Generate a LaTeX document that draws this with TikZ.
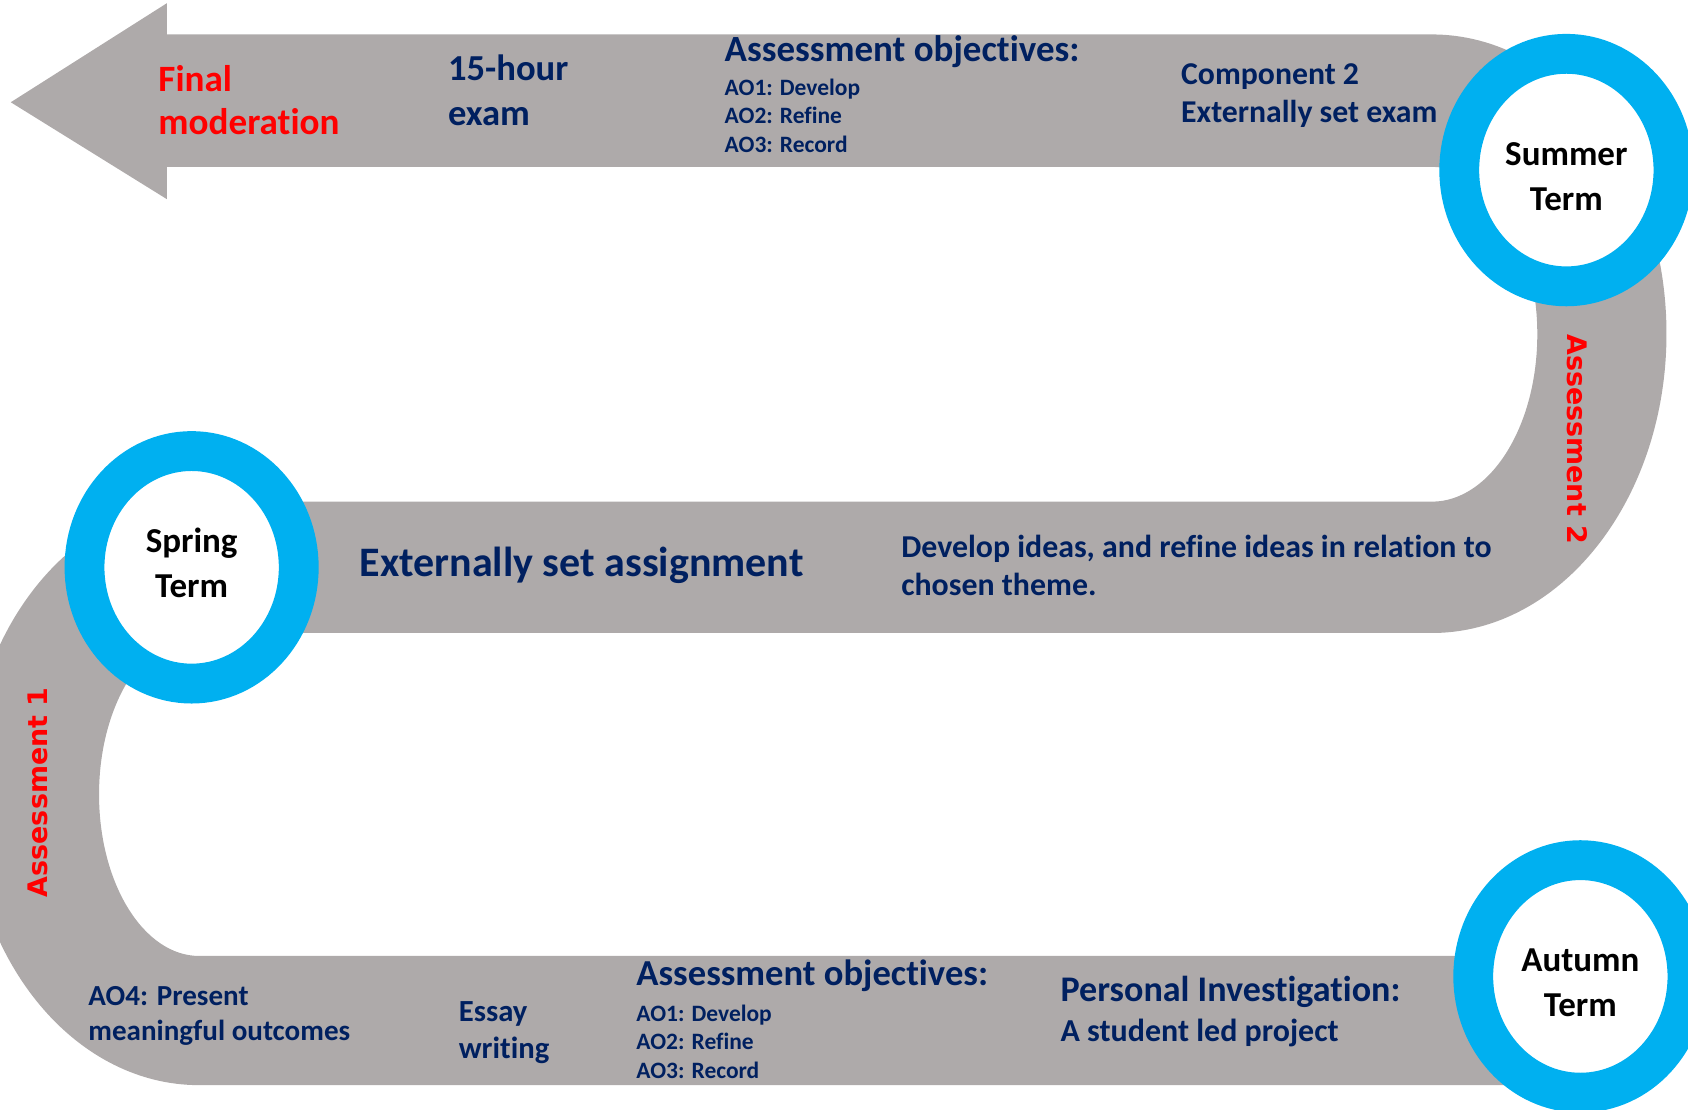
\documentclass[tikz,border=0pt]{standalone}
\usepackage{fontspec}
\setmainfont{Carlito}[Ligatures=CommonOff]
\newfontfamily\vfont{DejaVu Sans}
\usetikzlibrary{shapes.geometric}
\definecolor{bargray}{HTML}{AEAAAA}
\definecolor{ringblue}{HTML}{00B0F0}
\definecolor{navy}{HTML}{002060}
\definecolor{redtxt}{HTML}{FF0000}
\newcommand{\fsz}[2]{\fontsize{#1}{#2}\selectfont}
\begin{document}
\begin{tikzpicture}[x=1pt,y=1pt,
  ring/.style={ellipse, draw=ringblue, line width=37pt, fill=white, minimum width=199pt, minimum height=216pt, inner sep=0pt},
  termtxt/.style={inner sep=0pt, align=center, text=black, font=\bfseries\fsz{32.5}{42}},
  lbl/.style={anchor=west, inner sep=0pt, align=left, text=navy},
  vlbl/.style={inner sep=0pt, text=redtxt, font=\vfont\bfseries\fsz{25}{30}}
]
\useasboundingbox (0,0) rectangle (1568,1031);
\begin{scope}
\clip (0,0) rectangle (1568,1031);
\fill[bargray] (10,936) -- (155,1028) -- (155,999) -- (1330,999)
  arc[start angle=90,end angle=-90,x radius=218,y radius=278]
  -- (185,443) arc[start angle=90,end angle=270,x radius=93,y radius=150]
  -- (1468,143) -- (1468,23) -- (185,23)
  arc[start angle=270,end angle=90,x radius=215,y radius=271]
  -- (1330,565) arc[start angle=-90,end angle=90,x radius=98,y radius=155.5]
  -- (155,876) -- (155,846) -- cycle;
\node[ring] (summer) at (1455,873) {};
\node[ring] (spring) at (178,504) {};
\node[ring] (autumn) at (1468,124) {};
\end{scope}
\node[termtxt] (summerlbl) at (1455,867) {Summer\\Term};
\node[termtxt] (springlbl) at (178,508) {Spring\\Term};
\node[termtxt] (autumnlbl) at (1468,118) {Autumn\\Term};
% top row
\node[lbl, text=redtxt, font=\bfseries\fsz{34.5}{40}] (final) at (147,938) {Final\\moderation};
\node[lbl, font=\bfseries\fsz{34}{42}] (exam) at (416,947) {15-hour\\exam};
\node[lbl, font=\bfseries\fsz{34.3}{36}] (aotop) at (673,983) {Assessment objectives:};
\node[lbl, font=\bfseries\fsz{21.8}{26.5}] (aotoplist) at (673,923.5) {AO1: Develop\\AO2: Refine\\AO3: Record};
\node[lbl, font=\bfseries\fsz{29.5}{35}] (comp) at (1097,942) {Component 2\\Externally set exam};
% right turn
\node[vlbl, rotate=-90] (a2) at (1465,623) {Assessment 2};
% middle row
\node[lbl, font=\bfseries\fsz{39}{44}] (esa) at (334,506) {Externally set assignment};
\node[lbl, font=\bfseries\fsz{29.6}{35}] (dev) at (837,506) {Develop ideas, and refine ideas in relation to\\chosen theme.};
% left turn
\node[vlbl, rotate=90] (a1) at (35,295) {Assessment 1};
% bottom row
\node[lbl, font=\bfseries\fsz{27}{33}] (ao4) at (82,87.5) {AO4: Present\\meaningful outcomes};
\node[lbl, font=\bfseries\fsz{28.5}{34}] (essay) at (426,72) {Essay\\writing};
\node[lbl, font=\bfseries\fsz{34}{36}] (aobot) at (591,125) {Assessment objectives:};
\node[lbl, font=\bfseries\fsz{21.8}{26.5}] (aobotlist) at (591,63.5) {AO1: Develop\\AO2: Refine\\AO3: Record};
\node[lbl, font=\bfseries\fsz{33.5}{36}] (pi) at (985,110) {Personal Investigation:};
\node[lbl, font=\bfseries\fsz{29.7}{34}] (proj) at (985,71) {A student led project};
\end{tikzpicture}
\end{document}
